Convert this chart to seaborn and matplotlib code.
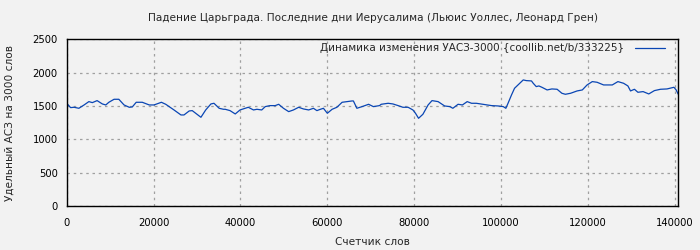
import matplotlib
matplotlib.use("Agg")
import matplotlib.pyplot as plt
import seaborn as sns
import pandas as pd

title = "Падение Царьграда. Последние дни Иерусалима (Льюис Уоллес, Леонард Грен)"
series_label = "Динамика изменения УАСЗ-3000 {coollib.net/b/333225}"
x_label = "Счетчик слов"
y_label = "Удельный АСЗ на 3000 слов"

words = [0, 900, 1700, 2800, 4000, 5100, 5900, 7000, 8200, 9000, 9700, 10900, 12000,
         13200, 14400, 15100, 16000, 17400, 19000, 20100, 21800, 22800, 24700, 26300,
         27000, 28200, 28900, 29700, 30900, 32000, 33200, 33900, 35100, 36100, 36500,
         37600, 38800, 39900, 41800, 43000, 43800, 44900, 45700, 46800, 48000, 48800,
         49900, 51100, 52200, 53400, 54500, 55700, 56800, 57600, 58400, 59100, 60000,
         61100, 62200, 63400, 64500, 65700, 66000, 66800, 68000, 69500, 70600, 72000,
         72400, 74000, 75100, 76300, 77400, 78600, 79700, 80300, 81000, 82000, 83200,
         84100, 85500, 87000, 88200, 88900, 90100, 91100, 92200, 93200, 94300, 95800,
         97800, 99300, 100500, 101100, 101600, 102400, 103100, 103900, 105100, 105800,
         107000, 107400, 108100, 108700, 109400, 110600, 111700, 112900, 114000, 114800,
         116000, 117500, 118700, 119800, 121000, 122100, 123600, 125600, 126900, 128200,
         129200, 129800, 130700, 131500, 132700, 134000, 135300, 136700, 138200, 139800,
         140300, 140800]
asz = [1540, 1475, 1480, 1465, 1515, 1565, 1550, 1580, 1530, 1515, 1555, 1600, 1600,
       1515, 1480, 1485, 1555, 1555, 1515, 1515, 1555, 1525, 1440, 1365,
       1365, 1425, 1430, 1390, 1330, 1440, 1530, 1540, 1465, 1450, 1450,
       1430, 1380, 1440, 1480, 1440, 1450, 1440, 1490, 1505, 1505, 1525,
       1465, 1415, 1440, 1480, 1455, 1440, 1465, 1430, 1450, 1465, 1390,
       1450, 1480, 1555, 1565, 1575, 1575, 1465, 1490, 1525, 1490, 1505,
       1525, 1540, 1530, 1505, 1480, 1480, 1440, 1390, 1315, 1375, 1515,
       1580, 1565, 1500, 1490, 1465, 1525, 1515, 1565, 1540, 1540, 1525,
       1505, 1500, 1490, 1465, 1540, 1665, 1765, 1815, 1890, 1880,
       1875, 1840, 1790, 1800, 1780, 1740, 1755, 1750, 1690, 1675,
       1690, 1725, 1740, 1815, 1865, 1855, 1815, 1815, 1865, 1840,
       1800, 1725, 1750, 1705, 1715, 1680, 1730, 1750, 1755, 1780,
       1740, 1675]
x_ticks = [0, 20000, 40000, 60000, 80000, 100000, 120000, 140000]
y_ticks = [0, 500, 1000, 1500, 2000, 2500]

df = pd.DataFrame({"words": words, "asz": asz})

sns.set_theme(style="white")
plt.rcParams['font.family'] = ['DejaVu Sans']

bg = "#f2f2f2"
fig = plt.figure(figsize=(7, 2.5), dpi=100, facecolor=bg)
ax = fig.add_axes([0.0953, 0.176, 0.8737, 0.667])
ax.set_facecolor(bg)

sns.lineplot(data=df, x="words", y="asz", ax=ax, color="#0a46b4", linewidth=0.9,
             label=series_label)

ax.set_xlim(0, words[-1])
ax.set_ylim(0, 2500)
ax.set_xticks(x_ticks)
ax.set_yticks(y_ticks)
ax.set_xticklabels([str(t) for t in x_ticks])
ax.set_yticklabels([str(t) for t in y_ticks])
ax.tick_params(axis="both", labelsize=7.2, colors="black", direction="out", length=2.5,
               width=0.8)
ax.tick_params(axis="x", pad=6)
ax.tick_params(axis="y", pad=4)
ax.grid(True, color="#a0a0a0", linestyle=(0, (2, 3)), linewidth=0.9)
for s in ax.spines.values():
    s.set_color("black")
    s.set_linewidth(1.0)

ax.set_xlabel(x_label, fontsize=7.6, labelpad=6.5)
ax.set_ylabel(y_label, fontsize=7.6, labelpad=13)
ax.set_title(title, fontsize=7.6, pad=13)

leg = ax.legend(loc="upper right", frameon=False, markerfirst=False, fontsize=7.5,
                handlelength=2.9, borderaxespad=0.0, handletextpad=1.05,
                bbox_to_anchor=(0.985, 1.0))

fig.savefig("out.png", dpi=100, facecolor=bg)
